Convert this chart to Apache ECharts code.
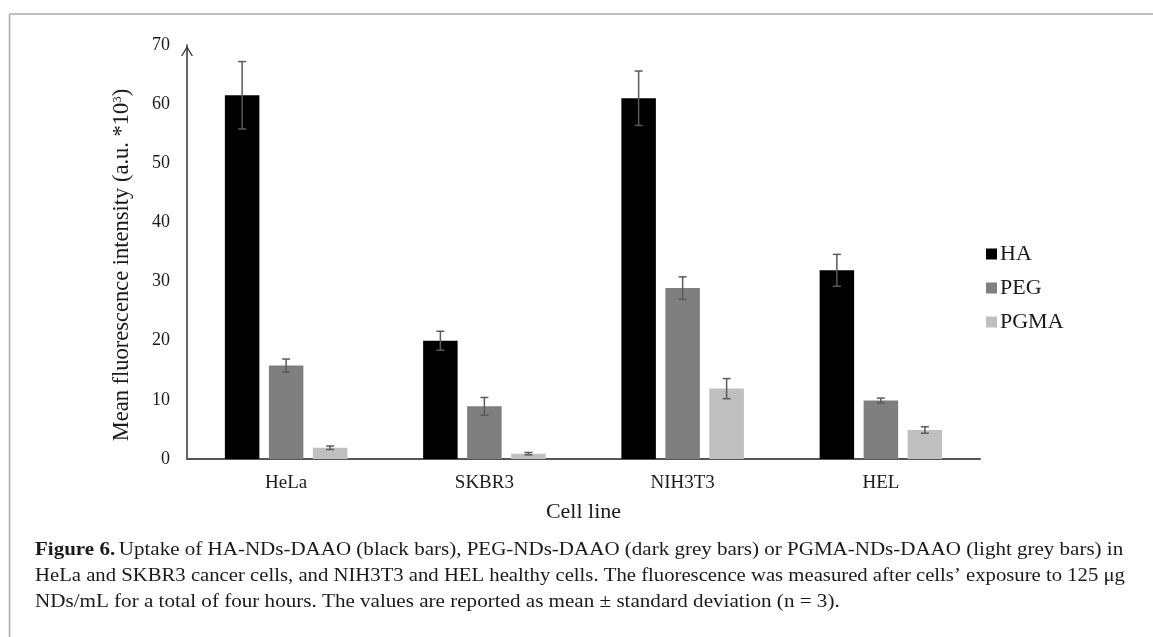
<!DOCTYPE html>
<html>
<head>
<meta charset="utf-8">
<script src="https://cdn.jsdelivr.net/npm/echarts@6/dist/echarts.min.js"></script>
<style>
  html, body { margin: 0; padding: 0; background: #fff; }
  #chart { width: 1153px; height: 637px; }
</style>
</head>
<body>
<div id="chart"></div>
<script>
// ---- data ----
const categories = ['HeLa', 'SKBR3', 'NIH3T3', 'HEL'];
const seriesNames = ['HA', 'PEG', 'PGMA'];
const haMean   = [61.5, 20.0, 61.0, 31.9];
const haSd     = [5.7, 1.6, 4.6, 2.7];
const pegMean  = [15.8, 8.9, 28.9, 9.9];
const pegSd    = [1.1, 1.5, 1.9, 0.4];
const pgmaMean = [1.9, 0.9, 11.9, 4.9];
const pgmaSd   = [0.3, 0.2, 1.7, 0.55];
const yTicks = [0, 10, 20, 30, 40, 50, 60, 70];

const captionLines = [
  'Uptake of HA-NDs-DAAO (black bars), PEG-NDs-DAAO (dark grey bars) or PGMA-NDs-DAAO (light grey bars) in',
  'HeLa and SKBR3 cancer cells, and NIH3T3 and HEL healthy cells. The fluorescence was measured after cells\u2019 exposure to 125 \u03bcg',
  'NDs/mL for a total of four hours. The values are reported as mean \u00b1 standard deviation (n = 3).'
];

const colors = ['#000000', '#7f7f7f', '#bfbfbf'];
const means = [haMean, pegMean, pgmaMean];
const sds = [haSd, pegSd, pgmaSd];

const BAR_W = 34.5;
const BAR_GAP = 9.5;
const serif = '"Liberation Serif", "DejaVu Serif", serif';
const CAP_SCALES = [1.106, 1.09, 1.11];

const chart = echarts.init(document.getElementById('chart'), null, { renderer: 'canvas' });

const barSeries = seriesNames.map((name, i) => ({
  name: name,
  type: 'bar',
  data: means[i],
  barWidth: BAR_W,
  barGap: (BAR_GAP / BAR_W * 100) + '%',
  itemStyle: { color: colors[i] },
  z: 2
}));

const errSeries = seriesNames.map((name, i) => ({
  type: 'custom',
  name: name + ' SD',
  data: means[i].map((m, k) => [k, m, sds[i][k]]),
  z: 5,
  silent: true,
  renderItem: function (params, api) {
    const k = api.value(0);
    const m = api.value(1);
    const s = api.value(2);
    const offset = (i - 1) * (BAR_W + BAR_GAP);
    const top = api.coord([k, m + s]);
    const bot = api.coord([k, m - s]);
    const x = top[0] + offset;
    const cap = 4;
    const style = { stroke: '#5a5a5a', lineWidth: 1.5, fill: null };
    return {
      type: 'group',
      children: [
        { type: 'line', shape: { x1: x, y1: top[1], x2: x, y2: bot[1] }, style: style },
        { type: 'line', shape: { x1: x - cap, y1: top[1], x2: x + cap, y2: top[1] }, style: style },
        { type: 'line', shape: { x1: x - cap, y1: bot[1], x2: x + cap, y2: bot[1] }, style: style }
      ]
    };
  }
}));

const captionGraphics = captionLines.map((line, j) => ({
  type: 'text',
  x: 35,
  y: 541 + j * 26,
  scaleX: CAP_SCALES[j],
  originX: 0,
  originY: 0,
  silent: true,
  style: j === 0 ? {
    text: '{b|Figure 6.} {r|' + line + '}',
    rich: {
      b: { fontFamily: serif, fontSize: 19, fontWeight: 'bold', fill: '#1a1a1a' },
      r: { fontFamily: serif, fontSize: 19, fill: '#1a1a1a' }
    }
  } : {
    text: line,
    font: '19px ' + serif,
    fill: '#1a1a1a'
  }
}));

const option = {
  backgroundColor: '#ffffff',
  animation: false,
  textStyle: { fontFamily: serif },
  grid: { left: 187, right: 173, top: 45, bottom: 178, containLabel: false },
  legend: {
    data: seriesNames,
    orient: 'vertical',
    left: 981,
    top: 238,
    itemWidth: 11,
    itemHeight: 11,
    itemGap: 12,
    icon: 'rect',
    textStyle: { fontFamily: serif, fontSize: 22, color: '#1a1a1a', padding: [2, 0, 0, -2] }
  },
  xAxis: {
    type: 'category',
    data: categories,
    name: 'Cell line',
    nameLocation: 'middle',
    nameGap: 42,
    nameTextStyle: { fontFamily: serif, fontSize: 22, color: '#1a1a1a' },
    axisLine: { show: true, lineStyle: { color: '#555555', width: 2 } },
    axisTick: { show: false },
    axisLabel: { fontFamily: serif, fontSize: 19, color: '#1a1a1a', margin: 15 }
  },
  yAxis: {
    type: 'value',
    min: 0,
    max: 70,
    interval: 10,
    name: '{a|Mean fluorescence intensity (a.u. *10}{s|3}{a|)}',
    nameLocation: 'middle',
    nameGap: 53,
    nameRotate: 90,
    nameTextStyle: {
      padding: [0, 26, 0, 0],
      rich: {
        a: { fontFamily: serif, fontSize: 22.5, color: '#1a1a1a' },
        s: { fontFamily: serif, fontSize: 13, color: '#1a1a1a', verticalAlign: 'top', padding: [0, 0, 9, 0] }
      }
    },
    axisLine: {
      show: true,
      lineStyle: { color: '#333333', width: 1.5 },
      symbol: ['none', 'path://M0,10 L6,0 L12,10 L10.6,10 L6,2.6 L1.4,10 Z'],
      symbolSize: [12, 10],
      symbolOffset: [0, -6]
    },
    axisTick: { show: false },
    splitLine: { show: false },
    axisLabel: {
      fontFamily: serif, fontSize: 18, color: '#1a1a1a', margin: 17,
      formatter: function (v) { return yTicks.indexOf(v) >= 0 ? String(v) : ''; }
    }
  },
  graphic: [
    { type: 'line', shape: { x1: 9.5, y1: 14, x2: 1153, y2: 14 }, style: { stroke: '#aaaaaa', lineWidth: 1.5 }, silent: true },
    { type: 'line', shape: { x1: 9.5, y1: 14, x2: 9.5, y2: 637 }, style: { stroke: '#aaaaaa', lineWidth: 1.5 }, silent: true }
  ].concat(captionGraphics),
  series: barSeries.concat(errSeries)
};

chart.setOption(option);
</script>
</body>
</html>
